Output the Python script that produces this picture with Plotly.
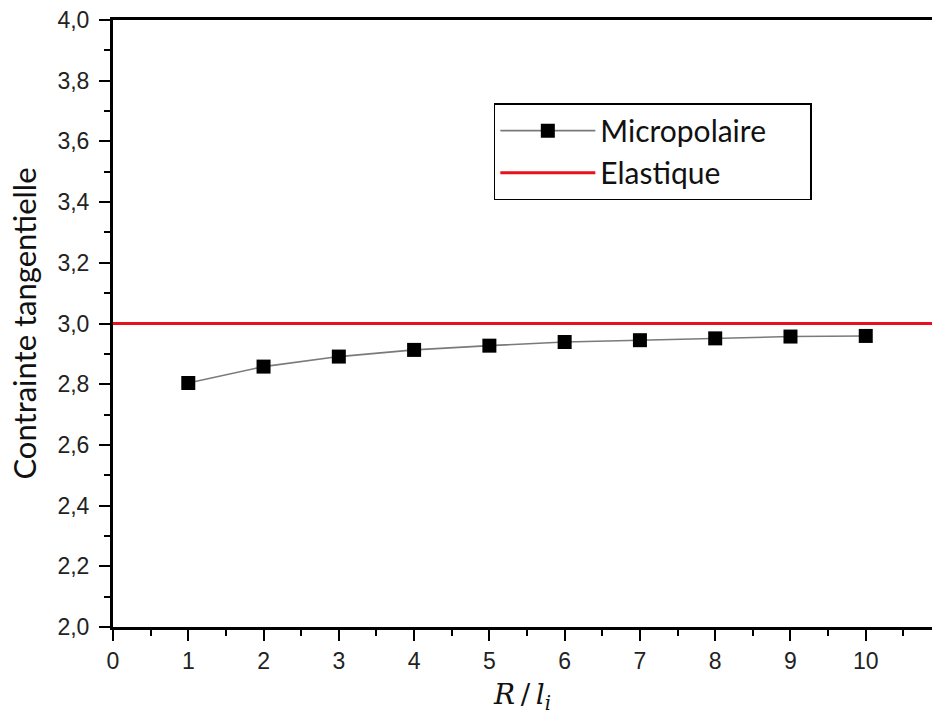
import plotly.graph_objects as go

# Data
r_over_l = [1, 2, 3, 4, 5, 6, 7, 8, 9, 10]
micropolaire = [2.804, 2.858, 2.891, 2.913, 2.927, 2.939, 2.945, 2.951, 2.957, 2.959]
elastique_x = [0, 10.88]
elastique_y = [3.0, 3.0]

y_tickvals = [2.0, 2.2, 2.4, 2.6, 2.8, 3.0, 3.2, 3.4, 3.6, 3.8, 4.0]
x_tickvals = [0, 1, 2, 3, 4, 5, 6, 7, 8, 9, 10]

fig = go.Figure()
fig.add_trace(go.Scatter(
    x=r_over_l, y=micropolaire, name="Micropolaire&nbsp;&nbsp;&nbsp;&nbsp;&nbsp;",
    mode="lines+markers", legendgroup="a",
    line=dict(color="#7a7a7a", width=1.6),
    marker=dict(symbol="square", size=14, color="black"),
))
fig.add_trace(go.Scatter(
    x=elastique_x, y=elastique_y, name="Elastique",
    mode="lines", legendgroup="b",
    line=dict(color="#e8101a", width=3),
))

tick_font = dict(family="Liberation Sans, Arial", size=23, color="#222")

fig.update_layout(
    width=932, height=724,
    margin=dict(l=113, r=0, t=20, b=97),
    paper_bgcolor="white", plot_bgcolor="white",
    separators=", ",
    showlegend=True,
    legend=dict(
        x=0.465, y=0.863, xanchor="left", yanchor="top",
        bgcolor="white", bordercolor="black", borderwidth=1.5,
        font=dict(family="Lato", size=30, color="#111"),
        itemwidth=95,
        tracegroupgap=0,
    ),
    xaxis=dict(
        range=[0, 10.88], showgrid=False, zeroline=False, automargin=False,
        showline=True, linecolor="black", linewidth=3, mirror=True,
        ticks="outside", ticklen=11, tickwidth=2, tickcolor="black",
        tickvals=x_tickvals, tickfont=tick_font,
        minor=dict(dtick=0.5, ticks="outside", ticklen=6, tickwidth=2, tickcolor="black"),
        title=dict(text="<i>R</i>\u2009/\u2009<i>l<sub>i</sub></i>",
                   font=dict(family="DejaVu Serif", size=28, color="#111"), standoff=12),
    ),
    yaxis=dict(
        range=[2.0, 4.0], showgrid=False, zeroline=False, automargin=False,
        showline=True, linecolor="black", linewidth=3,
        ticks="outside", ticklen=11, tickwidth=2, tickcolor="black",
        ticklabelstandoff=5,
        tickvals=y_tickvals, tickformat=".1f", tickfont=tick_font,
        minor=dict(dtick=0.1, ticks="outside", ticklen=6, tickwidth=2, tickcolor="black"),
        title=dict(text="Contrainte tangentielle",
                   font=dict(family="Lato", size=31, color="#111"), standoff=12),
    ),
)

fig.write_html(
    "out.html",
    config={"displayModeBar": False},
    post_script="document.body.style.margin='0';document.body.style.overflow='hidden';",
)
